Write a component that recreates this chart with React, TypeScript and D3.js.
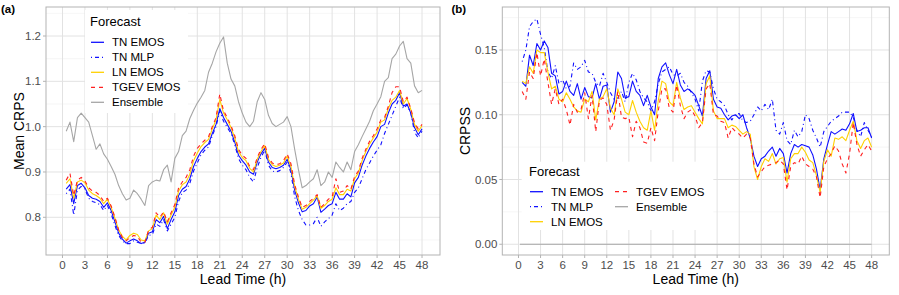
import React from "react";
import * as d3 from "d3";

// lead times of the forecasts (h)
const leadTimes = d3.range(1, 97).map((i) => i * 0.5);
const ensembleSpan = [0.2, 48];

const forecasts = ["TN EMOS", "TN MLP", "LN EMOS", "TGEV EMOS", "Ensemble"];
const xTicks = [0, 3, 6, 9, 12, 15, 18, 21, 24, 27, 30, 33, 36, 39, 42, 45, 48];
const crpsTicks = [0.8, 0.9, 1.0, 1.1, 1.2];
const crpsMinor = [0.75, 0.85, 0.95, 1.05, 1.15, 1.25];
const crpssTicks = [0.0, 0.05, 0.1, 0.15];
const crpssMinor = [0.025, 0.075, 0.125, 0.175];

// (a) Mean CRPS
const crpsTnEmos = [
  0.862, 0.872, 0.83, 0.87, 0.875, 0.865, 0.848, 0.842, 0.84, 0.835, 0.822, 0.832,
  0.815, 0.79, 0.765, 0.752, 0.743, 0.748, 0.752, 0.748, 0.742, 0.745, 0.765, 0.768,
  0.795, 0.788, 0.802, 0.775, 0.795, 0.812, 0.848, 0.862, 0.868, 0.885, 0.912, 0.93,
  0.945, 0.955, 0.962, 0.985, 1.005, 1.04, 1.02, 1.005, 0.99, 0.966, 0.937, 0.925,
  0.915, 0.9, 0.895, 0.922, 0.94, 0.952, 0.922, 0.91, 0.907, 0.91, 0.915, 0.928,
  0.905, 0.86, 0.832, 0.812, 0.815, 0.825, 0.83, 0.845, 0.811, 0.818, 0.826, 0.83,
  0.855, 0.84, 0.84, 0.852, 0.845, 0.876, 0.888, 0.915, 0.935, 0.952, 0.966, 0.978,
  1.0, 1.005, 1.03, 1.05, 1.058, 1.075, 1.045, 1.05, 1.03, 0.998, 0.982, 0.995,
];
const crpsTnMlp = [
  0.852, 0.862, 0.805, 0.86, 0.868, 0.862, 0.842, 0.835, 0.832, 0.828, 0.815, 0.826,
  0.808, 0.782, 0.76, 0.748, 0.742, 0.742, 0.748, 0.745, 0.742, 0.743, 0.76, 0.762,
  0.785, 0.78, 0.795, 0.77, 0.785, 0.8, 0.835, 0.855, 0.86, 0.875, 0.902, 0.92,
  0.938, 0.948, 0.955, 0.98, 1.0, 1.035, 1.012, 0.998, 0.985, 0.96, 0.93, 0.915,
  0.905, 0.888, 0.878, 0.91, 0.932, 0.948, 0.915, 0.902, 0.9, 0.903, 0.91, 0.922,
  0.898, 0.845, 0.815, 0.795, 0.783, 0.783, 0.786, 0.8, 0.78, 0.79, 0.797, 0.805,
  0.83, 0.815, 0.82, 0.83, 0.835, 0.855, 0.865, 0.885, 0.905, 0.92, 0.935, 0.948,
  0.96, 0.985, 1.005, 1.025, 1.045, 1.065, 1.04, 1.048, 1.03, 0.988, 0.975, 0.99,
];
const crpsLnEmos = [
  0.875, 0.885, 0.842, 0.878, 0.882, 0.876, 0.86, 0.852, 0.848, 0.842, 0.83, 0.84,
  0.822, 0.798, 0.772, 0.758, 0.75, 0.76, 0.765, 0.762, 0.75, 0.748, 0.77, 0.775,
  0.805, 0.795, 0.81, 0.785, 0.805, 0.822, 0.858, 0.872, 0.878, 0.895, 0.925, 0.942,
  0.956, 0.965, 0.972, 0.995, 1.015, 1.06, 1.03, 1.015, 0.998, 0.975, 0.945, 0.932,
  0.925, 0.908, 0.9, 0.928, 0.945, 0.958, 0.928, 0.916, 0.912, 0.915, 0.92, 0.935,
  0.912, 0.868, 0.84, 0.818, 0.822, 0.83, 0.838, 0.848, 0.82, 0.826, 0.835, 0.84,
  0.865, 0.85, 0.85, 0.862, 0.858, 0.885, 0.898, 0.925, 0.945, 0.962, 0.975, 0.988,
  1.01, 1.015, 1.04, 1.058, 1.065, 1.08, 1.05, 1.062, 1.038, 1.005, 0.99, 1.002,
];
const crpsTgevEmos = [
  0.882, 0.897, 0.848, 0.882, 0.888, 0.88, 0.865, 0.858, 0.855, 0.848, 0.835, 0.842,
  0.825, 0.8, 0.772, 0.755, 0.748, 0.755, 0.76, 0.758, 0.745, 0.745, 0.772, 0.778,
  0.81, 0.8, 0.812, 0.79, 0.81, 0.828, 0.865, 0.878, 0.888, 0.905, 0.935, 0.952,
  0.962, 0.97, 0.978, 1.0, 1.02, 1.072, 1.035, 1.02, 1.002, 0.98, 0.95, 0.937,
  0.93, 0.912, 0.905, 0.932, 0.95, 0.962, 0.932, 0.92, 0.916, 0.918, 0.925, 0.94,
  0.918, 0.872, 0.845, 0.822, 0.826, 0.835, 0.842, 0.85, 0.822, 0.83, 0.84, 0.845,
  0.885, 0.855, 0.858, 0.87, 0.862, 0.89, 0.902, 0.93, 0.95, 0.968, 0.98, 0.995,
  1.015, 1.02, 1.045, 1.075, 1.088, 1.088, 1.055, 1.065, 1.04, 1.008, 0.995, 1.005,
];
const crpsEnsemble = [
  0.99, 1.01, 0.967, 1.02, 1.03, 1.02, 1.01, 0.98, 0.95, 0.962, 0.94, 0.928,
  0.912, 0.895, 0.87, 0.852, 0.838, 0.842, 0.86, 0.852, 0.84, 0.826, 0.87, 0.878,
  0.882, 0.88, 0.905, 0.915, 0.878, 0.93, 0.945, 0.98, 0.99, 1.018, 1.036, 1.052,
  1.065, 1.08, 1.12, 1.14, 1.165, 1.184, 1.198, 1.14, 1.105, 1.09, 1.055, 1.03,
  1.01, 1.0, 1.012, 1.055, 1.075, 1.06, 1.025, 1.007, 1.0, 1.005, 1.01, 1.022,
  1.0, 0.95, 0.905, 0.865, 0.87, 0.878, 0.885, 0.905, 0.87, 0.878, 0.9, 0.888,
  0.922, 0.91, 0.9, 0.922, 0.905, 0.945, 0.96, 0.978, 0.995, 1.012, 1.035, 1.05,
  1.066, 1.1, 1.108, 1.15, 1.16, 1.178, 1.188, 1.15, 1.14, 1.09, 1.075, 1.08,
];

// (b) CRPSS
const crpssTnEmos = [
  0.125, 0.122, 0.146, 0.138, 0.155, 0.15, 0.157, 0.152, 0.132, 0.13, 0.116, 0.118,
  0.126, 0.118, 0.115, 0.124, 0.112, 0.121, 0.114, 0.113, 0.124, 0.112, 0.122, 0.123,
  0.102, 0.11, 0.133, 0.128, 0.113, 0.114, 0.126, 0.118, 0.115, 0.107, 0.115, 0.106,
  0.1, 0.128, 0.137, 0.14, 0.131, 0.124, 0.135, 0.123, 0.118, 0.12, 0.118, 0.115,
  0.107, 0.099, 0.128, 0.134, 0.112, 0.106, 0.105, 0.1, 0.096, 0.099, 0.1, 0.097,
  0.1, 0.09, 0.082, 0.068, 0.06, 0.066, 0.068, 0.072, 0.075, 0.068, 0.074, 0.07,
  0.055, 0.07, 0.077, 0.075, 0.077, 0.076, 0.075, 0.069, 0.058, 0.042, 0.066, 0.077,
  0.087, 0.085, 0.087, 0.089, 0.088, 0.093, 0.101, 0.087, 0.088, 0.09, 0.09, 0.082,
];
const crpssTnMlp = [
  0.141, 0.15, 0.168, 0.172, 0.174, 0.162, 0.152, 0.133, 0.128, 0.138, 0.124, 0.127,
  0.12, 0.122, 0.14, 0.135, 0.137, 0.142, 0.133, 0.132, 0.125, 0.122, 0.132, 0.125,
  0.117, 0.112, 0.113, 0.118, 0.11, 0.125, 0.132, 0.127, 0.118, 0.113, 0.11, 0.103,
  0.11, 0.124, 0.133, 0.135, 0.137, 0.131, 0.13, 0.132, 0.125, 0.122, 0.117, 0.112,
  0.103, 0.126, 0.134, 0.133, 0.12, 0.112, 0.11, 0.107, 0.1, 0.096, 0.1, 0.101,
  0.095, 0.094, 0.095, 0.1, 0.106, 0.103, 0.108, 0.104, 0.112, 0.088, 0.085, 0.094,
  0.08, 0.077, 0.088, 0.083, 0.087, 0.1, 0.097, 0.088, 0.082, 0.075, 0.087, 0.091,
  0.095, 0.097, 0.099, 0.102, 0.102, 0.102, 0.098, 0.088, 0.083, 0.094, 0.088, 0.083,
];
const crpssLnEmos = [
  0.126, 0.124, 0.137, 0.132, 0.15, 0.148, 0.148, 0.133, 0.12, 0.122, 0.112, 0.11,
  0.117, 0.112, 0.106, 0.103, 0.102, 0.112, 0.11, 0.118, 0.096, 0.112, 0.114, 0.12,
  0.105, 0.1, 0.12, 0.112, 0.102, 0.1, 0.111, 0.102, 0.095, 0.09, 0.088, 0.103,
  0.088, 0.111, 0.126, 0.124, 0.11, 0.107, 0.125, 0.113, 0.104, 0.106, 0.107, 0.102,
  0.097, 0.093, 0.124, 0.13, 0.103, 0.097, 0.097, 0.097, 0.09, 0.092, 0.091, 0.088,
  0.085, 0.087, 0.085, 0.06, 0.05, 0.06, 0.066, 0.064, 0.07, 0.062, 0.066, 0.067,
  0.048, 0.066, 0.07, 0.07, 0.075, 0.071, 0.065, 0.063, 0.053, 0.04, 0.064, 0.073,
  0.068, 0.082, 0.081, 0.083, 0.08, 0.088, 0.095, 0.08, 0.074, 0.08, 0.082, 0.075,
];
const crpssTgevEmos = [
  0.118, 0.112, 0.133, 0.128, 0.148, 0.13, 0.143, 0.125, 0.108, 0.12, 0.108, 0.112,
  0.104, 0.092, 0.108, 0.102, 0.104, 0.117, 0.097, 0.115, 0.087, 0.111, 0.113, 0.108,
  0.088, 0.096, 0.118, 0.098, 0.097, 0.098, 0.083, 0.095, 0.09, 0.079, 0.078, 0.09,
  0.08, 0.103, 0.12, 0.12, 0.105, 0.102, 0.123, 0.107, 0.097, 0.102, 0.104, 0.099,
  0.09, 0.094, 0.12, 0.124, 0.1, 0.099, 0.095, 0.094, 0.082, 0.09, 0.087, 0.085,
  0.082, 0.085, 0.082, 0.062, 0.052, 0.056, 0.06, 0.061, 0.062, 0.063, 0.065, 0.062,
  0.042, 0.06, 0.063, 0.062, 0.068, 0.062, 0.06, 0.058, 0.052, 0.036, 0.06, 0.066,
  0.07, 0.076, 0.072, 0.062, 0.055, 0.07, 0.094, 0.077, 0.068, 0.073, 0.077, 0.072,
];
const crpssEnsemble = [0, 0];

const FONT = "'Liberation Sans', Arial, Helvetica, sans-serif";

// line style per forecast
const styles: Record<string, { color: string; dash?: string; width: number }> = {
  "TN EMOS": { color: "#1010ff", width: 1.1 },
  "TN MLP": { color: "#1010ff", dash: "1 3 4 3", width: 1.1 },
  "LN EMOS": { color: "#ffd000", width: 1.1 },
  "TGEV EMOS": { color: "#ff2020", dash: "4 4", width: 1.1 },
  Ensemble: { color: "#a6a6a6", width: 1.1 },
};

type Series = { name: string; xs: number[]; ys: number[] };

type LegendSpec = {
  boxX: number; boxY: number; boxW: number; boxH: number;
  titleX: number; titleY: number;
  keyX: number; rowY: number; colW: number; rows: number;
};

type PanelProps = {
  left: number; right: number; top: number; bottom: number;
  yDomain: [number, number];
  yTicks: number[]; yMinor: number[]; yFmt: (v: number) => string;
  yTitle: string; yTitleX: number; tag: string; tagX: number;
  series: Series[]; legend: LegendSpec;
};

function Panel(p: PanelProps) {
  const x = d3.scaleLinear().domain([-2.2, 50.4]).range([p.left, p.right]);
  const y = d3.scaleLinear().domain(p.yDomain).range([p.bottom, p.top]);
  const line = d3
    .line<[number, number]>()
    .x((d) => x(d[0]))
    .y((d) => y(d[1]));

  const lg = p.legend;
  const drawOrder = ["Ensemble", "TN EMOS", "TN MLP", "LN EMOS", "TGEV EMOS"];

  return (
    <g fontFamily={FONT}>
      <text x={p.tagX} y={12.5} fontSize={11.5} fontWeight="bold" fill="#000">
        {p.tag}
      </text>
      <rect x={p.left} y={p.top} width={p.right - p.left} height={p.bottom - p.top} fill="#fff" />
      {p.yMinor.map((v) => (
        <line key={"mi" + v} x1={p.left} x2={p.right} y1={y(v)} y2={y(v)} stroke="#f0f0f0" strokeWidth={0.6} />
      ))}
      {p.yTicks.map((v) => (
        <line key={"ma" + v} x1={p.left} x2={p.right} y1={y(v)} y2={y(v)} stroke="#e2e2e2" strokeWidth={1} />
      ))}
      {xTicks.map((v) => (
        <line key={"mx" + v} x1={x(v)} x2={x(v)} y1={p.top} y2={p.bottom} stroke="#e2e2e2" strokeWidth={1} />
      ))}

      {drawOrder.map((name) => {
        const s = p.series.find((d) => d.name === name)!;
        const st = styles[name];
        const pts = s.xs.map((t, i) => [t, s.ys[i]] as [number, number]);
        return (
          <path
            key={name}
            d={line(pts) || ""}
            fill="none"
            stroke={st.color}
            strokeWidth={st.width}
            strokeDasharray={st.dash}
            strokeLinejoin="round"
          />
        );
      })}

      <rect
        x={p.left}
        y={p.top}
        width={p.right - p.left}
        height={p.bottom - p.top}
        fill="none"
        stroke="#b3b3b3"
        strokeWidth={1}
      />

      {xTicks.map((v) => (
        <g key={"xt" + v}>
          <line x1={x(v)} x2={x(v)} y1={p.bottom} y2={p.bottom + 3} stroke="#b3b3b3" />
          <text x={x(v)} y={p.bottom + 14} textAnchor="middle" fontSize={11.5} fill="#4d4d4d">
            {v}
          </text>
        </g>
      ))}
      {p.yTicks.map((v) => (
        <g key={"yt" + v}>
          <line x1={p.left - 3} x2={p.left} y1={y(v)} y2={y(v)} stroke="#b3b3b3" />
          <text x={p.left - 5} y={y(v)} dy="0.36em" textAnchor="end" fontSize={11.5} fill="#4d4d4d">
            {p.yFmt(v)}
          </text>
        </g>
      ))}

      <text x={(p.left + p.right) / 2} y={p.bottom + 29} textAnchor="middle" fontSize={14} fill="#000">
        Lead Time (h)
      </text>
      <text
        transform={`translate(${p.yTitleX},${(p.top + p.bottom) / 2}) rotate(-90)`}
        textAnchor="middle"
        fontSize={14}
        fill="#000"
      >
        {p.yTitle}
      </text>

      <g>
        <rect x={lg.boxX} y={lg.boxY} width={lg.boxW} height={lg.boxH} fill="#fff" />
        <text x={lg.titleX} y={lg.titleY} fontSize={13} fill="#000">
          Forecast
        </text>
        {forecasts.map((name, i) => {
          const col = Math.floor(i / lg.rows);
          const row = i % lg.rows;
          const kx = lg.keyX + col * lg.colW;
          const ky = lg.rowY + row * 15;
          const st = styles[name];
          return (
            <g key={"lg" + name}>
              <line
                x1={kx}
                x2={kx + 13}
                y1={ky}
                y2={ky}
                stroke={st.color}
                strokeWidth={1.3}
                strokeDasharray={st.dash}
              />
              <text x={kx + 21} y={ky} dy="0.36em" fontSize={11.5} fill="#000">
                {name}
              </text>
            </g>
          );
        })}
      </g>
    </g>
  );
}

export default function App() {
  const panelA: Series[] = [
    { name: "TN EMOS", xs: leadTimes, ys: crpsTnEmos },
    { name: "TN MLP", xs: leadTimes, ys: crpsTnMlp },
    { name: "LN EMOS", xs: leadTimes, ys: crpsLnEmos },
    { name: "TGEV EMOS", xs: leadTimes, ys: crpsTgevEmos },
    { name: "Ensemble", xs: leadTimes, ys: crpsEnsemble },
  ];
  const panelB: Series[] = [
    { name: "TN EMOS", xs: leadTimes, ys: crpssTnEmos },
    { name: "TN MLP", xs: leadTimes, ys: crpssTnMlp },
    { name: "LN EMOS", xs: leadTimes, ys: crpssLnEmos },
    { name: "TGEV EMOS", xs: leadTimes, ys: crpssTgevEmos },
    { name: "Ensemble", xs: ensembleSpan, ys: crpssEnsemble },
  ];

  return (
    <svg
      width={899}
      height={295}
      style={{ position: "absolute", left: 0, top: 0, background: "#fff" }}
    >
      <Panel
        left={46}
        right={440}
        top={7}
        bottom={255}
        yDomain={[0.7168, 1.264]}
        yTicks={crpsTicks}
        yMinor={crpsMinor}
        yFmt={d3.format(".1f")}
        yTitle="Mean CRPS"
        yTitleX={24}
        tag="(a)"
        tagX={1}
        series={panelA}
        legend={{
          boxX: 85, boxY: 10, boxW: 103, boxH: 103,
          titleX: 90, titleY: 26,
          keyX: 91, rowY: 42.3, colW: 0, rows: 5,
        }}
      />
      <Panel
        left={502.3}
        right={889.3}
        top={7}
        bottom={255}
        yDomain={[-0.0083, 0.1832]}
        yTicks={crpssTicks}
        yMinor={crpssMinor}
        yFmt={d3.format(".2f")}
        yTitle="CRPSS"
        yTitleX={470}
        tag="(b)"
        tagX={451.5}
        series={panelB}
        legend={{
          boxX: 521.7, boxY: 161.7, boxW: 191.6, boxH: 68.3,
          titleX: 529, titleY: 175.5,
          keyX: 530, rowY: 191.7, colW: 85, rows: 3,
        }}
      />
    </svg>
  );
}
